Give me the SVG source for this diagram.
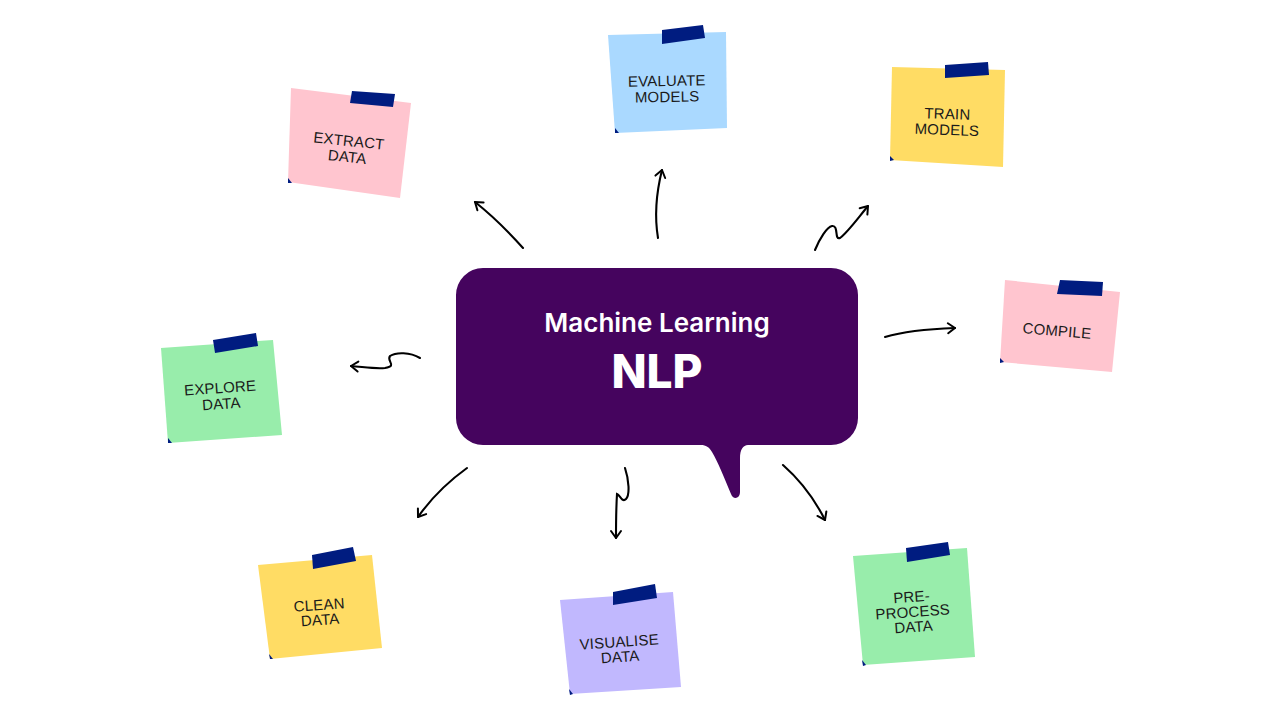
<svg xmlns="http://www.w3.org/2000/svg" width="1280" height="720" viewBox="0 0 1280 720">
<defs>
<marker id="ah" viewBox="-10 -7 12 14" markerWidth="12" markerHeight="14" refX="0" refY="0" orient="auto" markerUnits="userSpaceOnUse">
<path d="M-7,-5 L0,0 L-7,5" fill="none" stroke="#000" stroke-width="2" stroke-linecap="round" stroke-linejoin="round"/>
</marker>
</defs>
<style>
.arrow{fill:none;stroke:#000;stroke-width:2.1;stroke-linecap:round;marker-end:url(#ah)}
.tape{fill:#001C80}
.fold{fill:#001C80}
.lbl{font-family:"Liberation Sans","Noto Sans",sans-serif;font-size:15px;letter-spacing:0.2px;fill:#1a1a1a;text-anchor:middle}
.pink{fill:#FFC5CF}
.blue{fill:#AAD9FF}
.yellow{fill:#FFDC64}
.green{fill:#98EDAB}
.lav{fill:#C1B8FE}
</style>
<rect width="1280" height="720" fill="#fff"/>

<g id="center">
<path d="M483,268 H831 A27,27 0 0 1 858,295 V418 A27,27 0 0 1 831,445 H748 C743,445 740,450 740,458 V492 C740,499 733,500 731,494 C724,477 718,462 712,452 C709,447 706,445 701,445 H483 A27,27 0 0 1 456,418 V295 A27,27 0 0 1 483,268 Z" fill="#45045E"/>
<text x="657" y="332" text-anchor="middle" font-family="Inter,'Liberation Sans',sans-serif" font-weight="600" font-size="26" fill="#fff">Machine Learning</text>
<text x="657" y="388" text-anchor="middle" font-family="Inter,'Liberation Sans',sans-serif" font-weight="800" font-size="46" fill="#fff">NLP</text>
</g>

<g id="extract">
<polygon class="pink" points="291,88 411,103 400,198 288,182"/>
<polygon class="tape" points="352,91 395,94 393,107 350,103"/>
<polygon class="fold" points="288,178 292,183 288,183"/>
<g transform="rotate(6 348 150)" class="lbl"><text x="348" y="146">EXTRACT</text><text x="348" y="162">DATA</text></g>
</g>

<g id="evaluate">
<polygon class="blue" points="608,35 726,32 727,128 615,133"/>
<polygon class="tape" points="662,30 703,25 705,38 662,44"/>
<polygon class="fold" points="615,128 619,133 615,133"/>
<g transform="rotate(-1 667 92)" class="lbl"><text x="667" y="86">EVALUATE</text><text x="667" y="102">MODELS</text></g>
</g>

<g id="train">
<polygon class="yellow" points="892,67 1005,70 1003,167 890,160"/>
<polygon class="tape" points="945,65 988,62 989,75 945,78"/>
<polygon class="fold" points="890,156 894,160 890,161"/>
<g transform="rotate(2 947 126)" class="lbl"><text x="947" y="119">TRAIN</text><text x="947" y="135">MODELS</text></g>
</g>

<g id="compile">
<polygon class="pink" points="1005,280 1120,292 1112,372 1000,362"/>
<polygon class="tape" points="1060,280 1103,282 1102,296 1057,294"/>
<polygon class="fold" points="1000,358 1004,362 1000,363"/>
<g transform="rotate(5 1057 330)" class="lbl"><text x="1057" y="336">COMPILE</text></g>
</g>

<g id="explore">
<polygon class="green" points="161,348 273,340 282,435 168,443"/>
<polygon class="tape" points="213,340 256,333 258,346 215,353"/>
<polygon class="fold" points="168,438 172,443 168,443"/>
<g transform="rotate(-4 221 400)" class="lbl"><text x="221" y="393">EXPLORE</text><text x="221" y="409">DATA</text></g>
</g>

<g id="clean">
<polygon class="yellow" points="258,565 372,555 382,648 270,659"/>
<polygon class="tape" points="312,555 353,547 356,561 313,569"/>
<polygon class="fold" points="269,654 273,659 270,659"/>
<g transform="rotate(-4 320 617)" class="lbl"><text x="320" y="610">CLEAN</text><text x="320" y="625">DATA</text></g>
</g>

<g id="visualise">
<polygon class="lav" points="560,600 673,592 681,687 570,694"/>
<polygon class="tape" points="613,592 655,584 657,598 613,605"/>
<polygon class="fold" points="569,689 573,694 570,695"/>
<g transform="rotate(-4 620 654)" class="lbl"><text x="620" y="647">VISUALISE</text><text x="620" y="662">DATA</text></g>
</g>

<g id="preprocess">
<polygon class="green" points="853,556 967,548 975,657 863,665"/>
<polygon class="tape" points="906,548 948,542 950,555 907,562"/>
<polygon class="fold" points="862,660 866,665 863,666"/>
<g transform="rotate(-4 913 617)" class="lbl"><text x="913" y="602">PRE-</text><text x="913" y="617">PROCESS</text><text x="913" y="632">DATA</text></g>
</g>

<g id="connectors">
<path class="arrow" d="M523,248 C506,229 494,217 475,202"/>
<path class="arrow" d="M658,238 C654,214 656,194 662,170"/>
<path class="arrow" d="M815,250 C820,238 827,227 832,226 C839,225 834,240 840,238 C848,232 858,218 868,206"/>
<path class="arrow" d="M420,358 C410,352 396,352 390,356 C386,361 398,366 385,368 C375,369 364,367 351,366"/>
<path class="arrow" d="M885,337 C905,331 927,329 955,328"/>
<path class="arrow" d="M467,468 C449,481 432,497 418,517"/>
<path class="arrow" d="M625,468 C629,480 630,495 626,499 C622,503 620,495 617,494 C616,510 616,524 616,538"/>
<path class="arrow" d="M783,465 C800,480 815,500 825,520"/>
</g>
</svg>
